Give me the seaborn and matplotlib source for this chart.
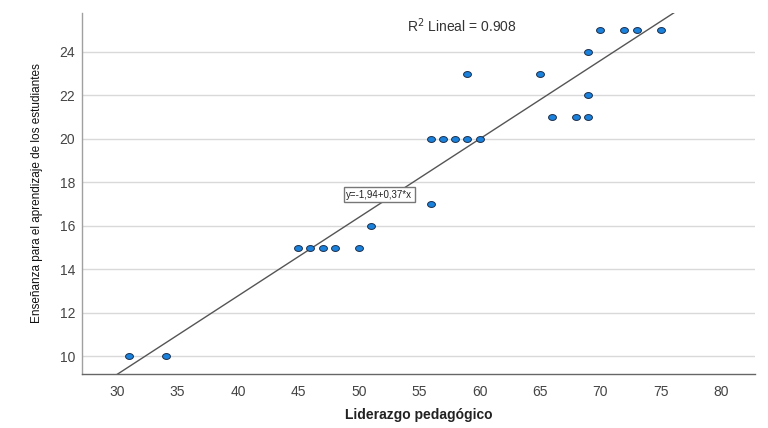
import numpy as np
import pandas as pd
import matplotlib
matplotlib.use("Agg")
import matplotlib.pyplot as plt
from matplotlib.path import Path
import seaborn as sns

# Data
liderazgo = [31, 34, 45, 46, 47, 48, 50, 51, 56, 56, 57, 58, 59, 60, 59,
             65, 66, 68, 69, 69, 69, 70, 72, 73, 75]
ensenanza = [10, 10, 15, 15, 15, 15, 15, 16, 17, 20, 20, 20, 20, 20, 23,
             23, 21, 21, 21, 22, 24, 25, 25, 25, 25]
x_ticks = [30, 35, 40, 45, 50, 55, 60, 65, 70, 75, 80]
y_ticks = [10, 12, 14, 16, 18, 20, 22, 24]
r2_label = "R$^2$ Lineal = 0.908"
eq_label = "y=-1,94+0,37*x"
x_title = "Liderazgo pedagógico"
y_title = "Enseñanza para el aprendizaje de los estudiantes"

df = pd.DataFrame({"x": liderazgo, "y": ensenanza})

sns.set_theme(style="white")
plt.rcParams["font.family"] = ["Liberation Sans", "DejaVu Sans"]

fig = plt.figure(figsize=(7.68, 4.28), dpi=100)
ax = fig.add_axes([0.107, 0.126, 0.876, 0.844])
ax.set_xlim(27.1, 82.8)
ax.set_ylim(9.19, 25.8)

ax.yaxis.grid(True, color="#d9d9d9", linewidth=1.0)
ax.set_axisbelow(True)

sns.regplot(data=df, x="x", y="y", ax=ax, scatter=False, ci=None,
            truncate=False, color="#555555", line_kws={"linewidth": 1.0})

t = np.linspace(0, 2 * np.pi, 40)
ellipse = Path(np.column_stack([np.cos(t), 0.75 * np.sin(t)]), closed=True)
sns.scatterplot(data=df, x="x", y="y", ax=ax, marker=ellipse, s=32,
                color="#1a82dc", edgecolor="#1c2f4a", linewidth=0.7, zorder=3)

ax.set_xlim(27.1, 82.8)
ax.set_ylim(9.19, 25.8)
ax.set_xticks(x_ticks)
ax.set_yticks(y_ticks)
ax.tick_params(axis="both", length=0, labelsize=10, labelcolor="#444444")
ax.tick_params(axis="x", pad=8)
ax.tick_params(axis="y", pad=5)

for s in ["top", "right"]:
    ax.spines[s].set_visible(False)
ax.spines["left"].set_color("#a0a0a0")
ax.spines["bottom"].set_color("#666666")
ax.spines["left"].set_linewidth(1.0)
ax.spines["bottom"].set_linewidth(1.0)

ax.set_xlabel(x_title, fontsize=10, fontweight="bold", color="#222222", labelpad=6)
ax.set_ylabel(y_title, fontsize=8.5, color="#111111", labelpad=12,
              family=["Liberation Sans Narrow", "Liberation Sans", "DejaVu Sans"])

ax.text(54.0, 25.23, r2_label, fontsize=10, color="#333333", ha="left", va="center")
ax.text(51.7, 17.44, eq_label, fontsize=7, color="#222222", ha="center", va="center",
        bbox=dict(boxstyle="square,pad=0.25", fc="white", ec="#777777", lw=1.0),
        zorder=4)

fig.savefig("out.png", dpi=100, facecolor="white")
